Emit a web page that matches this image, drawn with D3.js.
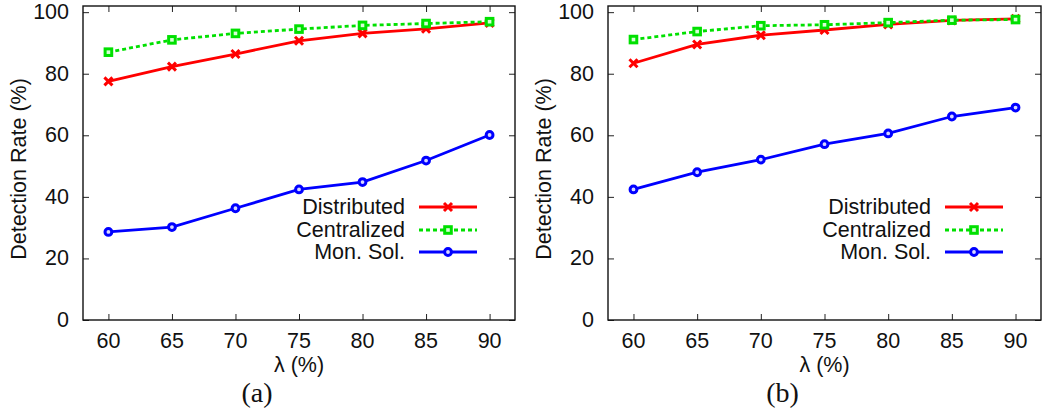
<!DOCTYPE html>
<html>
<head>
<meta charset="utf-8">
<script src="https://cdn.jsdelivr.net/npm/d3@7"></script>
<style>
  html, body { margin: 0; padding: 0; background: #fff; }
  svg { display: block; }
  text { font-family: "Liberation Sans", Arial, Helvetica, sans-serif; fill: #111; }
  .cap { font-family: "Liberation Serif", "DejaVu Serif", serif; }
</style>
</head>
<body>
<svg id="chart" width="1047" height="410"></svg>
<script>
// Detection rate versus lambda, two scenarios (a) and (b)
const lambdas = [60, 65, 70, 75, 80, 85, 90];
const yTicks = [0, 20, 40, 60, 80, 100];
const seriesNames = ["Distributed", "Centralized", "Mon. Sol."];

const distributedA = [77.5, 82.3, 86.4, 90.7, 93.1, 94.6, 96.5];
const centralizedA = [87.0, 91.0, 93.1, 94.5, 95.7, 96.3, 96.9];
const monSolA      = [28.6, 30.2, 36.3, 42.4, 44.8, 51.8, 60.1];

const distributedB = [83.4, 89.5, 92.5, 94.2, 96.0, 97.3, 97.8];
const centralizedB = [91.1, 93.7, 95.6, 95.9, 96.6, 97.4, 97.6];
const monSolB      = [42.4, 48.0, 52.1, 57.1, 60.6, 66.1, 69.0];

const styles = [
  { color: "#ff0000", dash: null, marker: "cross" },
  { color: "#00e000", dash: "4,3", marker: "square" },
  { color: "#0000ff", dash: null, marker: "circle" }
];

const svg = d3.select("#chart");

function drawPanel(opts) {
  const { left, right, top, bottom, caption, series } = opts;
  const x = d3.scaleLinear().domain([58, 92]).range([left, right]);
  const y = d3.scaleLinear().domain([0, 102]).range([bottom, top]);
  const g = svg.append("g");

  // inward ticks on all four sides
  const tickLen = 6;
  g.append("g").attr("transform", `translate(0,${bottom})`)
    .call(d3.axisBottom(x).tickValues(lambdas).tickSize(-tickLen).tickFormat(""))
    .call(s => s.select(".domain").remove());
  g.append("g").attr("transform", `translate(0,${top})`)
    .call(d3.axisTop(x).tickValues(lambdas).tickSize(-tickLen).tickFormat(""))
    .call(s => s.select(".domain").remove());
  g.append("g").attr("transform", `translate(${left},0)`)
    .call(d3.axisLeft(y).tickValues(yTicks).tickSize(-tickLen).tickFormat(""))
    .call(s => s.select(".domain").remove());
  g.append("g").attr("transform", `translate(${right},0)`)
    .call(d3.axisRight(y).tickValues(yTicks).tickSize(-tickLen).tickFormat(""))
    .call(s => s.select(".domain").remove());
  g.selectAll(".tick line").attr("stroke", "#222").attr("stroke-width", 1);

  // frame
  g.append("rect")
    .attr("x", left).attr("y", top)
    .attr("width", right - left).attr("height", bottom - top)
    .attr("fill", "none").attr("stroke", "#111").attr("stroke-width", 1.4);

  // tick labels
  g.selectAll(".ylab").data(yTicks).join("text")
    .attr("x", left - 14).attr("y", d => y(d))
    .attr("text-anchor", "end").attr("dominant-baseline", "central")
    .style("font-size", "21.5px").text(d => d);
  g.selectAll(".xlab").data(lambdas).join("text")
    .attr("x", d => x(d)).attr("y", bottom + 21)
    .attr("text-anchor", "middle").attr("dominant-baseline", "central")
    .style("font-size", "21.5px").text(d => d);

  // axis titles
  const cx = (left + right) / 2;
  g.append("text").attr("x", cx).attr("y", 365)
    .attr("text-anchor", "middle").attr("dominant-baseline", "central")
    .style("font-size", "21.5px").text("λ (%)");
  g.append("text")
    .attr("transform", `translate(${left - 64},${(top + bottom) / 2 + 6}) rotate(-90)`)
    .attr("text-anchor", "middle").attr("dominant-baseline", "central")
    .style("font-size", "21.5px").text("Detection Rate (%)");
  g.append("text").attr("class", "cap")
    .attr("x", cx - 42).attr("y", 392)
    .attr("text-anchor", "middle").attr("dominant-baseline", "central")
    .style("font-size", "28px").text(caption);

  const line = d3.line().x(d => x(d[0])).y(d => y(d[1]));

  function marker(sel, kind, color) {
    if (kind === "cross") {
      sel.append("path").attr("d", "M-4,-4L4,4M-4,4L4,-4")
        .attr("stroke", color).attr("stroke-width", 3).attr("fill", "none");
    } else if (kind === "square") {
      sel.append("rect").attr("x", -3.3).attr("y", -3.3).attr("width", 6.6).attr("height", 6.6)
        .attr("stroke", color).attr("stroke-width", 3).attr("fill", "#d8ffd8");
    } else {
      sel.append("circle").attr("r", 3.4)
        .attr("stroke", color).attr("stroke-width", 3).attr("fill", "#d8d8ff");
    }
  }

  // series lines and markers
  series.forEach((vals, i) => {
    const st = styles[i];
    const pts = lambdas.map((l, k) => [l, vals[k]]);
    g.append("path").datum(pts).attr("d", line)
      .attr("fill", "none").attr("stroke", st.color).attr("stroke-width", 2.8)
      .attr("stroke-dasharray", st.dash);
    pts.forEach(p => {
      marker(g.append("g").attr("transform", `translate(${x(p[0])},${y(p[1])})`), st.marker, st.color);
    });
  });

  // legend
  const legRight = opts.legendX;
  const rowsY = [207, 230, 252];
  seriesNames.forEach((name, i) => {
    const st = styles[i];
    g.append("text").attr("x", legRight).attr("y", rowsY[i])
      .attr("text-anchor", "end").attr("dominant-baseline", "central")
      .style("font-size", "21.5px").text(name);
    g.append("line")
      .attr("x1", legRight + 14).attr("x2", legRight + 72)
      .attr("y1", rowsY[i]).attr("y2", rowsY[i])
      .attr("stroke", st.color).attr("stroke-width", 2.8)
      .attr("stroke-dasharray", st.dash);
    marker(g.append("g").attr("transform", `translate(${legRight + 43},${rowsY[i]})`), st.marker, st.color);
  });
}

drawPanel({
  left: 83, right: 515, top: 6, bottom: 320, caption: "(a)", legendX: 405,
  series: [distributedA, centralizedA, monSolA]
});
drawPanel({
  left: 608, right: 1041, top: 6, bottom: 320, caption: "(b)", legendX: 931,
  series: [distributedB, centralizedB, monSolB]
});
</script>
</body>
</html>
